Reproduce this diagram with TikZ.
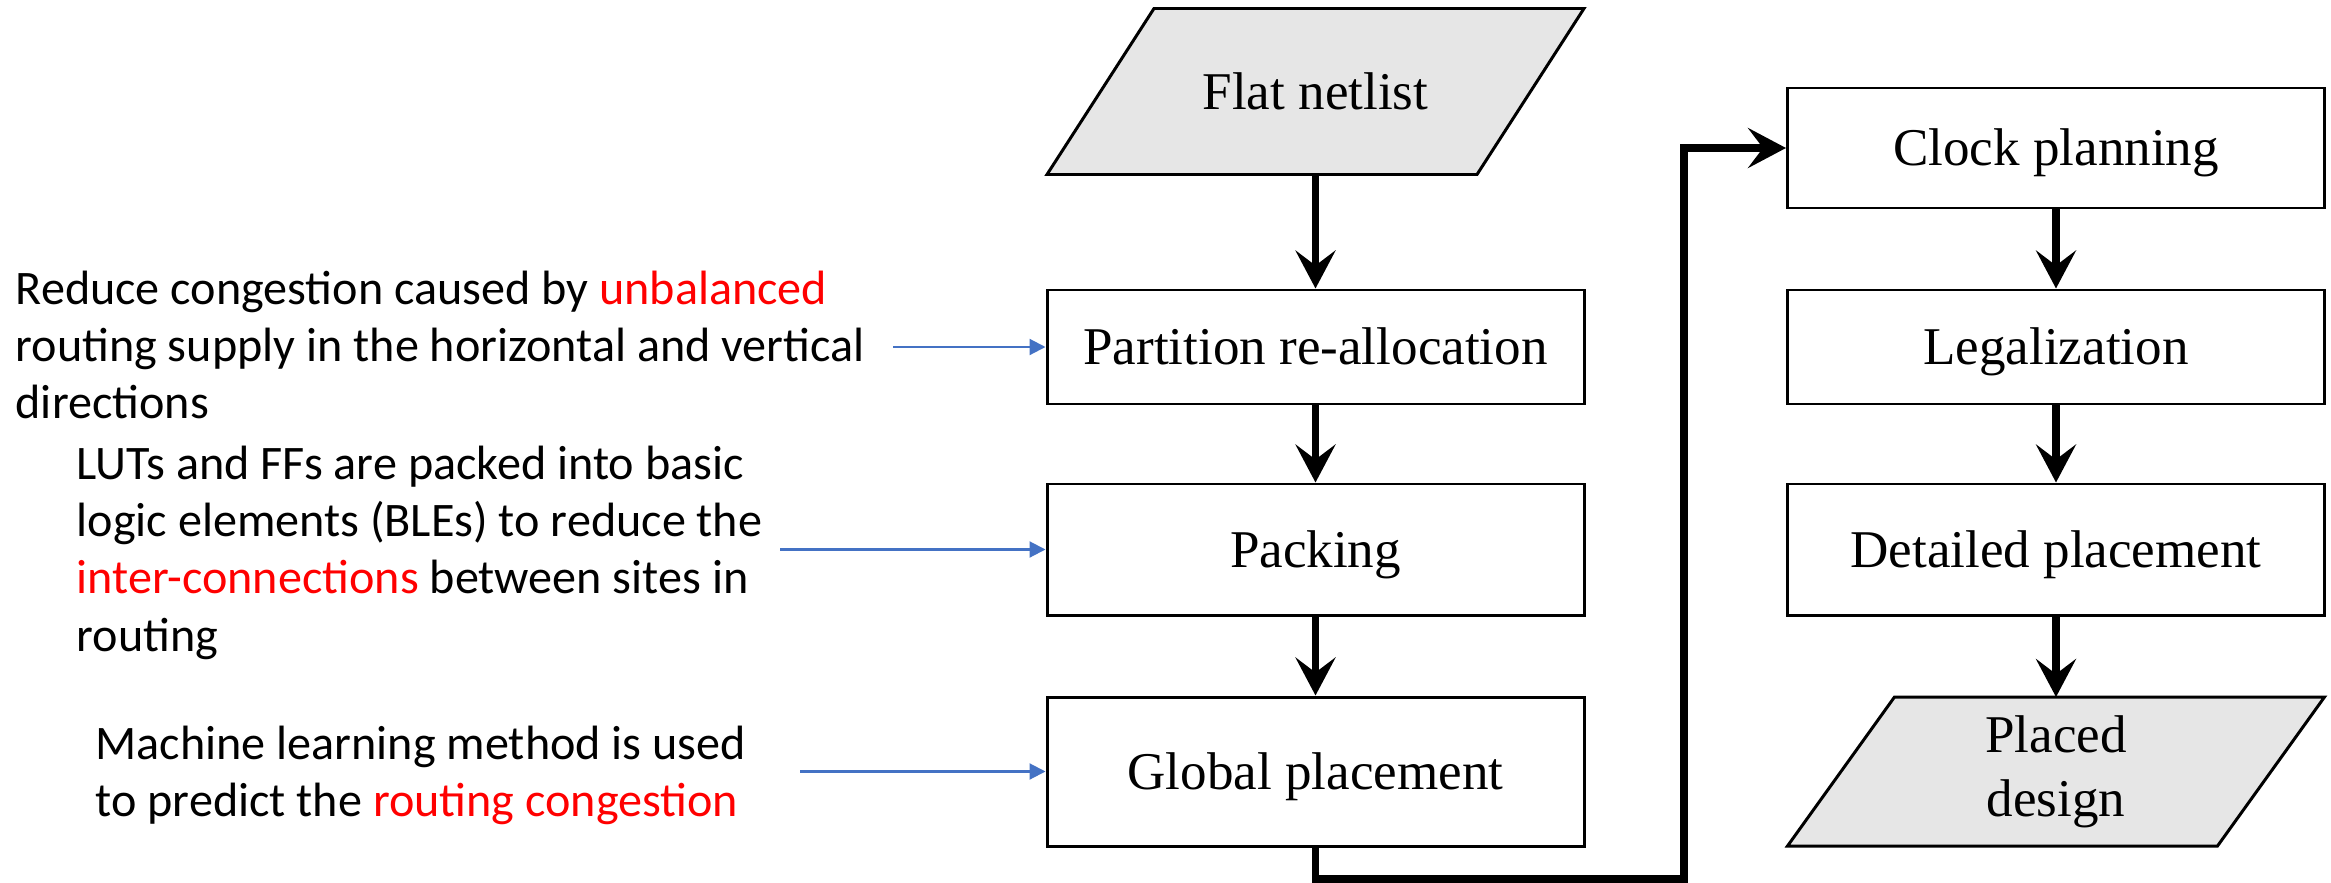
\documentclass[tikz,border=0pt]{standalone}
\usepackage{fontspec}
\setmainfont{Liberation Serif}
\newfontfamily\notefont{Carlito}
\usepackage{tikz}
\usetikzlibrary{arrows.meta,backgrounds}
\definecolor{boxgray}{RGB}{230,230,230}
\definecolor{notered}{RGB}{255,0,0}
\definecolor{noteblue}{RGB}{68,114,196}
\tikzset{
	stepbox/.style={rectangle, draw, line width=0.85pt, minimum width=5.37cm, text height=13.4pt, text depth=3.3pt, font=\fontsize{15.1}{16}\selectfont},
	databox/.style={rectangle, outer sep=0pt, minimum width=5.37cm, align=center, font=\fontsize{15.1}{18.3}\selectfont},
	dataline/.style={draw, fill=boxgray, line width=0.85pt, line join=miter},
	flow/.style={line width=2pt, -{Stealth[length=3.8mm, width=4mm, inset=1.5mm]}},
	note/.style={draw=noteblue, line width=0.6pt, -{Triangle[length=1.6mm, width=1.6mm]}},
	notetext/.style={anchor=north west, inner sep=0pt, align=left, font=\notefont\fontsize{13.7}{16.33}\selectfont}
}
\begin{document}
\begin{tikzpicture}

\useasboundingbox (0,0) rectangle (23.31,-8.83);

\node[databox, minimum height=1.66cm] (flat) at (13.155,-0.915) {Flat netlist};
	\node[stepbox, minimum height=1.14cm] (partition) at (13.155,-3.47) {Partition re-allocation};
	\node[stepbox, minimum height=1.31cm] (packing) at (13.155,-5.495) {Packing};
	\node[stepbox, minimum height=1.49cm] (global) at (13.155,-7.715) {Global placement};
\node[stepbox, minimum height=1.20cm] (clock) at (20.56,-1.48) {Clock planning};
	\node[stepbox, minimum height=1.14cm] (legal) at (20.56,-3.47) {Legalization};
	\node[stepbox, minimum height=1.31cm] (detailed) at (20.56,-5.495) {Detailed placement};
	\node[databox, minimum height=1.49cm] (placed) at (20.56,-7.715) {Placed\\design};

\begin{scope}[on background layer]
\filldraw[dataline] ([xshift=1.07cm]flat.north west) -- (flat.north east) -- ([xshift=-1.07cm]flat.south east) -- (flat.south west) -- cycle;
\filldraw[dataline] ([xshift=1.07cm]placed.north west) -- (placed.north east) -- ([xshift=-1.07cm]placed.south east) -- (placed.south west) -- cycle;
\end{scope}

\node[notetext] (reduce) at (0.15,-2.70) {Reduce congestion caused by \textcolor{notered}{unbalanced}\\routing supply in the horizontal and vertical\\directions};
\node[notetext] (luts) at (0.76,-4.45) {LUTs and FFs are packed into basic\\logic elements (BLEs) to reduce the\\\textcolor{notered}{inter-connections} between sites in\\routing};
\node[notetext] (learning) at (0.95,-7.25) {Machine learning method is used\\to predict the \textcolor{notered}{routing congestion}};

\coordinate (n1) at (8.93,-3.47);
\coordinate (n2) at (7.80,-5.495);
\coordinate (n3) at (8.00,-7.715);
\coordinate (bend) at (16.84,-8.79);

\draw[flow] (flat) -- (partition);
\draw[flow] (partition) -- (packing);
\draw[flow] (packing) -- (global);
\draw[flow] (global) |- (bend) |- (clock);
\draw[flow] (clock) -- (legal);
\draw[flow] (legal) -- (detailed);
\draw[flow] (detailed) -- (placed);
\draw[note] (n1) -- (partition);
\draw[note] (n2) -- (packing);
\draw[note] (n3) -- (global);

\end{tikzpicture}
\end{document}
